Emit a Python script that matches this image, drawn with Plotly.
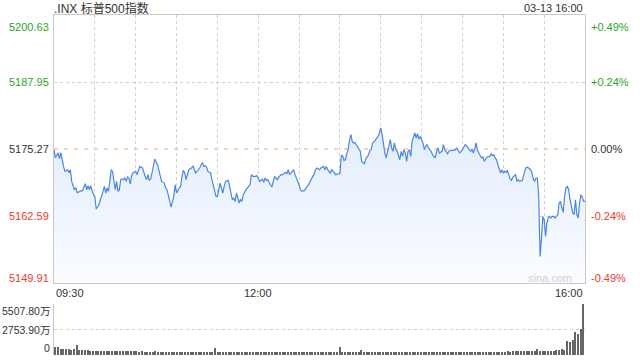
import plotly.graph_objects as go

# ---------------- data ----------------
title_text = ".INX 标普500指数"
stamp_text = "03-13 16:00"
prev_close = 5175.27

minutes = [0, 1, 3, 4, 5, 6, 7, 8, 10, 11, 12, 13, 14, 15, 16, 17, 19, 21, 23, 24, 25, 26, 27, 28, 30, 31, 32, 33, 34, 35,
           37, 38, 39, 40, 41, 42, 43, 44, 45, 46, 47, 48, 49, 50, 51, 52, 53, 54, 55, 56, 57, 58, 60, 61, 62, 63, 65, 66, 67, 68,
           69, 70, 71, 72, 73, 74, 76, 77, 78, 79, 81, 82, 83, 84, 85, 86, 87, 88, 89, 90, 92, 93, 94, 95, 96, 97, 99, 101, 102, 104,
           105, 106, 107, 109, 110, 111, 112, 113, 115, 116, 117, 118, 119, 120, 121, 122, 123, 124, 125, 126, 128, 129, 130, 131, 132, 133, 134, 135, 136, 137,
           138, 139, 140, 141, 143, 144, 145, 146, 148, 149, 150, 151, 153, 154, 155, 156, 157, 158, 159, 160, 161, 162, 164, 165, 166, 167, 168, 170, 171, 172,
           173, 175, 176, 177, 178, 179, 180, 181, 182, 184, 185, 186, 187, 189, 190, 191, 192, 193, 195, 196, 198, 199, 200, 201, 203, 204, 205, 206, 207, 209,
           210, 211, 212, 213, 214, 215, 216, 217, 218, 219, 220, 221, 222, 223, 225, 226, 227, 228, 229, 231, 232, 233, 234, 236, 237, 238, 239, 240, 241, 242,
           243, 244, 245, 246, 247, 248, 249, 250, 251, 252, 253, 254, 255, 256, 257, 258, 259, 260, 261, 262, 263, 264, 265, 266, 267, 268, 269, 271, 272, 273,
           274, 275, 276, 277, 278, 280, 281, 282, 283, 285, 286, 287, 288, 289, 290, 291, 293, 295, 296, 297, 298, 300, 301, 302, 303, 304, 306, 307, 308, 309,
           310, 311, 312, 313, 314, 315, 316, 317, 318, 320, 321, 322, 323, 324, 325, 326, 327, 328, 329, 330, 331, 332, 333, 334, 335, 336, 337, 339, 340, 341,
           342, 344, 345, 346, 347, 348, 350, 351, 352, 353, 354, 355, 356, 357, 358, 359, 360, 361, 362, 363, 364, 365, 366, 367, 368, 369, 370, 371, 372, 373,
           374, 375, 376, 377, 378, 379, 380, 381, 382, 383, 384, 385, 386, 387, 388, 389, 390]

prices = [5175.14, 5173.62, 5174.57, 5173.43, 5174.57, 5172.92, 5171.98, 5171.03, 5171.35, 5170.78, 5171.35, 5169.14, 5168.19, 5167.57, 5167.95, 5167.00, 5167.25, 5167.43, 5168.70, 5167.57, 5168.32, 5167.57, 5168.32, 5167.25, 5166.19, 5163.91, 5164.29, 5164.73, 5165.67, 5166.30,
          5168.19, 5166.94, 5167.89, 5167.25, 5169.14, 5171.35, 5171.03, 5168.83, 5167.57, 5169.14, 5167.25, 5167.57, 5169.46, 5169.59, 5169.46, 5169.78, 5169.14, 5169.97, 5169.78, 5168.65, 5170.22, 5170.73, 5171.03, 5170.41, 5171.03, 5171.98, 5171.67, 5170.73, 5170.08, 5169.46,
          5170.41, 5169.33, 5169.59, 5170.73, 5172.30, 5173.38, 5172.30, 5171.35, 5170.41, 5169.14, 5168.83, 5167.89, 5167.57, 5166.30, 5165.05, 5164.29, 5165.35, 5166.30, 5168.51, 5166.94, 5167.89, 5168.19, 5170.08, 5171.22, 5170.73, 5169.46, 5171.35, 5171.67, 5172.11, 5170.73,
          5171.03, 5171.35, 5171.67, 5172.73, 5171.98, 5172.11, 5171.86, 5171.03, 5170.73, 5169.46, 5168.51, 5167.25, 5166.30, 5166.30, 5167.57, 5168.83, 5167.89, 5166.94, 5168.19, 5169.14, 5169.33, 5167.89, 5166.62, 5165.67, 5166.00, 5165.35, 5166.94, 5165.67, 5165.05, 5165.67,
          5165.35, 5166.62, 5167.25, 5167.57, 5168.19, 5168.51, 5170.41, 5170.08, 5170.08, 5170.22, 5169.78, 5169.14, 5169.59, 5168.95, 5169.78, 5169.33, 5169.46, 5168.83, 5168.51, 5168.08, 5169.14, 5170.08, 5169.46, 5169.97, 5170.22, 5170.41, 5170.41, 5170.84, 5170.59, 5171.35,
          5170.41, 5171.03, 5171.35, 5170.41, 5169.78, 5169.46, 5168.51, 5167.57, 5167.25, 5167.43, 5167.89, 5168.19, 5168.51, 5169.78, 5170.08, 5170.41, 5171.35, 5171.67, 5171.35, 5171.67, 5171.98, 5171.35, 5171.98, 5171.35, 5170.73, 5171.35, 5171.03, 5170.59, 5170.41, 5170.59,
          5170.59, 5174.00, 5174.00, 5173.11, 5173.24, 5174.38, 5175.14, 5176.90, 5177.98, 5176.71, 5176.41, 5176.52, 5176.08, 5175.89, 5174.82, 5172.92, 5172.73, 5172.49, 5173.38, 5174.19, 5175.01, 5175.14, 5176.41, 5176.90, 5177.35, 5177.65, 5178.30, 5179.24, 5177.98, 5175.76,
          5174.51, 5173.57, 5174.82, 5176.41, 5177.03, 5175.46, 5174.82, 5176.41, 5175.14, 5174.82, 5173.87, 5173.24, 5174.82, 5173.87, 5175.14, 5174.51, 5172.92, 5174.82, 5175.14, 5173.87, 5176.71, 5177.35, 5178.30, 5177.35, 5178.17, 5177.16, 5177.65, 5176.41, 5175.14, 5175.76,
          5176.08, 5175.46, 5175.14, 5174.82, 5174.19, 5173.57, 5174.82, 5175.46, 5174.51, 5174.82, 5176.08, 5175.14, 5174.82, 5174.38, 5174.82, 5175.01, 5175.01, 5175.14, 5175.46, 5175.01, 5174.51, 5175.14, 5175.76, 5176.08, 5175.89, 5175.46, 5174.82, 5175.27, 5174.51, 5175.27,
          5176.41, 5175.01, 5174.51, 5174.00, 5173.57, 5173.76, 5172.92, 5173.38, 5173.76, 5173.87, 5174.38, 5174.00, 5174.19, 5173.57, 5173.24, 5172.30, 5171.67, 5170.73, 5171.35, 5170.73, 5171.03, 5170.84, 5171.22, 5170.41, 5169.59, 5169.33, 5169.97, 5170.41, 5169.14, 5169.46,
          5169.14, 5169.33, 5170.41, 5171.35, 5171.79, 5171.79, 5171.35, 5170.73, 5169.59, 5169.14, 5169.78, 5169.78, 5166.30, 5154.94, 5158.10, 5162.51, 5161.89, 5158.73, 5161.26, 5162.21, 5162.51, 5162.21, 5162.51, 5162.51, 5162.21, 5162.51, 5162.83, 5165.05, 5165.35, 5164.10,
          5163.27, 5166.30, 5167.89, 5168.19, 5167.57, 5165.67, 5164.10, 5163.16, 5162.83, 5165.67, 5162.83, 5162.21, 5165.05, 5166.62, 5166.19, 5165.35, 5165.35]

vol_minutes = list(range(0, 392, 2))
volumes = [880, 820, 700, 650, 640, 600, 560, 620, 1080, 560, 540, 520, 500, 480, 470,
           480, 460, 450, 470, 440, 430, 420, 450, 410, 400, 420, 400, 390, 410, 380,
           380, 370, 390, 360, 370, 350, 360, 380, 350, 340, 360, 350, 340, 330, 350,
           340, 330, 350, 320, 340, 330, 320, 340, 330, 320, 310, 330, 320, 340, 720,
           320, 310, 330, 320, 310, 330, 320, 310, 330, 320, 310, 320, 330, 310, 320,
           310, 320, 300, 310, 320, 300, 310, 320, 310, 300, 310, 320, 300, 310, 300,
           300, 310, 320, 300, 310, 300, 320, 310, 300, 310, 300, 320, 310, 300, 310,
           830, 330, 320, 310, 320, 300, 310, 320, 540, 310, 300, 320, 310, 300, 310,
           300, 310, 300, 320, 300, 310, 300, 290, 310, 300, 310, 300, 290, 310, 300,
           300, 290, 310, 300, 320, 300, 310, 300, 320, 310, 300, 320, 310, 330, 320,
           330, 320, 340, 330, 320, 340, 350, 330, 340, 350, 340, 330, 350, 340, 360,
           350, 370, 380, 360, 390, 380, 400, 390, 420, 410, 440, 450, 480, 650, 480,
           440, 460, 450, 470, 480, 520, 560, 600, 580, 1510, 1400, 1620, 2450, 2240, 2810, 5507.8]

price_ticks = [5200.63, 5187.95, 5175.27, 5162.59, 5149.91]
price_labels = ["5200.63", "5187.95", "5175.27", "5162.59", "5149.91"]
pct_labels = ["+0.49%", "+0.24%", "0.00%", "-0.24%", "-0.49%"]
tick_colors = ["#2aa52a", "#2aa52a", "#333333", "#f0392b", "#f0392b"]
label_shift = [-12, 0, 0, 0, 5]

vol_ticks = [5507.8, 2753.9, 0]
vol_labels = ["5507.80万", "2753.90万", "0"]
vol_shift = [-7, 0, 7]

time_ticks = [0, 150, 390]
time_labels = ["09:30", "12:00", "16:00"]
time_anchor = ["left", "center", "right"]
grid_minutes = list(range(30, 390, 30))

FONT = "Liberation Sans, Arial, Noto Sans CJK SC, sans-serif"
X0, X1 = 54 / 640, 585 / 640

fig = go.Figure()

fig.add_trace(go.Scatter(
    x=minutes, y=prices, mode="lines",
    line=dict(color="#4a86e8", width=1.2),
    fill="tozeroy",
    fillgradient=dict(type="vertical",
                      colorscale=[[0, "rgba(250,252,255,1)"], [1, "rgba(226,236,252,1)"]],
                      start=5149.91, stop=5180),
    xaxis="x", yaxis="y", hoverinfo="skip", showlegend=False))

fig.add_trace(go.Bar(
    x=vol_minutes, y=volumes, marker=dict(color="#666666", line=dict(width=0)),
    width=1.1, xaxis="x2", yaxis="y2", hoverinfo="skip", showlegend=False))

fig.update_layout(
    width=640, height=360, margin=dict(l=0, r=0, t=0, b=0),
    paper_bgcolor="white", plot_bgcolor="white",
    font=dict(family=FONT, size=11, color="#333333"),
    xaxis=dict(domain=[X0, X1], range=[0, 390], tickvals=grid_minutes, showticklabels=False,
               showgrid=True, griddash="dot", gridcolor="#cfcfcf", gridwidth=1,
               showline=True, linecolor="#c8c8c8", linewidth=1, mirror=True,
               zeroline=False, ticks=""),
    yaxis=dict(domain=[1 - 283 / 360, 1 - 15 / 360], range=[5149.91, 5200.63],
               tickvals=[5187.95, 5162.59], showticklabels=False,
               showgrid=True, griddash="dot", gridcolor="#cfcfcf", gridwidth=1,
               showline=True, linecolor="#c8c8c8", linewidth=1, mirror=True,
               zeroline=False, ticks=""),
    xaxis2=dict(domain=[X0, X1], range=[-1, 391], showticklabels=False, showgrid=False,
                showline=False, zeroline=False, anchor="y2"),
    yaxis2=dict(domain=[1 - 355 / 360, 1 - 304 / 360], range=[0, 5507.8],
                tickvals=[2753.9, 5507.8], showticklabels=False,
                showgrid=True, griddash="dot", gridcolor="#cfcfcf", gridwidth=1,
                showline=True, linecolor="#c8c8c8", linewidth=1,
                zeroline=False, ticks="", anchor="x2"),
    bargap=0,
)

# previous close reference line
fig.add_shape(type="line", xref="x", yref="y", x0=0, x1=390, y0=prev_close, y1=prev_close,
              line=dict(color="#f2a36b", width=1, dash="4px,6px"), layer="below")

ann = []
for v, lab, pct, col, sh in zip(price_ticks, price_labels, pct_labels, tick_colors, label_shift):
    ann.append(dict(xref="paper", yref="y", x=51 / 640, y=v, text=lab, showarrow=False,
                    xanchor="right", yanchor="middle", yshift=sh,
                    font=dict(size=11, color=col, family=FONT)))
    ann.append(dict(xref="paper", yref="y", x=589 / 640, y=v, text=pct, showarrow=False,
                    xanchor="left", yanchor="middle", yshift=sh,
                    font=dict(size=11, color=col, family=FONT)))
for v, lab, sh in zip(vol_ticks, vol_labels, vol_shift):
    ann.append(dict(xref="paper", yref="y2", x=52 / 640, y=v, text=lab, showarrow=False,
                    xanchor="right", yanchor="middle", yshift=sh,
                    font=dict(size=10.5, color="#333333", family=FONT)))
for t, lab, anc in zip(time_ticks, time_labels, time_anchor):
    ann.append(dict(xref="x", yref="paper", x=t, y=1 - 293 / 360, text=lab, showarrow=False,
                    xanchor=anc, yanchor="middle",
                    font=dict(size=11, color="#333333", family=FONT)))
ann.append(dict(xref="paper", yref="paper", x=54 / 640, y=1 - 8 / 360, text=title_text, showarrow=False,
                xanchor="left", yanchor="middle", xshift=-2, font=dict(size=12, color="#333333", family=FONT)))
ann.append(dict(xref="paper", yref="paper", x=585 / 640, y=1 - 8 / 360, text=stamp_text, showarrow=False,
                xanchor="right", yanchor="middle", font=dict(size=11, color="#333333", family=FONT)))
ann.append(dict(xref="paper", yref="paper", x=574 / 640, y=1 - 278 / 360, text="sina.com", showarrow=False,
                xanchor="right", yanchor="middle", font=dict(size=11, color="#d0d0d0", family=FONT)))
fig.update_layout(annotations=ann)

fig.write_html("out.html")
